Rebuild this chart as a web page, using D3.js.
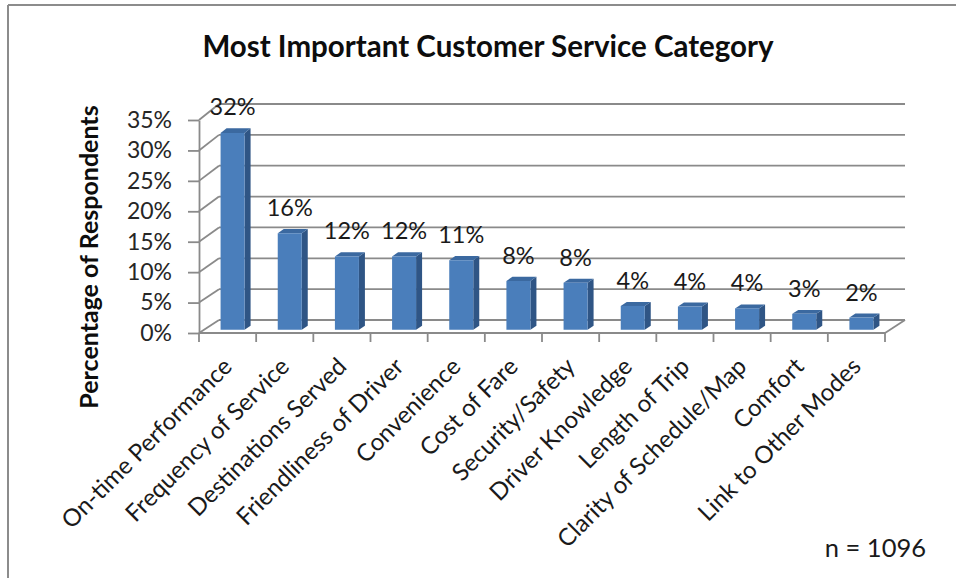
<!DOCTYPE html>
<html>
<head>
<meta charset="utf-8">
<script src="https://cdn.jsdelivr.net/npm/d3@7"></script>
<style>
  html, body { margin: 0; padding: 0; background: #fff; }
  svg { display: block; font-family: Lato, "Open Sans", sans-serif; }
</style>
</head>
<body>
<svg id="chart" width="956" height="578"></svg>
<script>
// Survey results: share of respondents naming each category as most important
const categories = [
  "On-time Performance", "Frequency of Service", "Destinations Served",
  "Friendliness of Driver", "Convenience", "Cost of Fare", "Security/Safety",
  "Driver Knowledge", "Length of Trip", "Clarity of Schedule/Map", "Comfort",
  "Link to Other Modes"
];
const shares = [32.2, 15.8, 12.0, 12.0, 11.4, 8.0, 7.7, 3.9, 3.8, 3.5, 2.6, 2.0];
const yTicks = [0, 5, 10, 15, 20, 25, 30, 35];
const titleText = "Most Important Customer Service Category";
const yTitleText = "Percentage of Respondents";
const noteText = "n = 1096";

const svg = d3.select("#chart");

// Front plane and back wall of the 3-D plot box
const x = d3.scaleBand().domain(categories).range([199, 885]).padding(0);
const yFront = d3.scaleLinear().domain([0, 35]).range([333, 120]);
const yBack = d3.scaleLinear().domain([0, 35]).range([320, 104]);
const depth = { dx: 20 };

// project a point on the front plane into depth t (0 = front, 1 = back)
function proj(xf, v, t) {
  return [xf + depth.dx * t, yFront(v) + (yBack(v) - yFront(v)) * t];
}

const gridColor = "#8a8a8a";
const textColor = "#1a1a1a";

// Chart frame (top and left edges)
svg.append("line").attr("x1", 8).attr("x2", 956).attr("y1", 5).attr("y2", 5)
  .attr("stroke", "#8c8c8c").attr("stroke-width", 2);
svg.append("line").attr("x1", 8).attr("x2", 8).attr("y1", 5).attr("y2", 578)
  .attr("stroke", "#8c8c8c").attr("stroke-width", 2);

// Back-wall gridlines
const x0 = x.range()[0], x1 = x.range()[1];
svg.append("g").selectAll("line").data(yTicks).join("line")
  .attr("x1", x0 + depth.dx).attr("x2", x1 + depth.dx)
  .attr("y1", d => yBack(d)).attr("y2", d => yBack(d))
  .attr("stroke", gridColor).attr("stroke-width", 1.8);

// Side-wall gridlines connecting the axis to the back wall
svg.append("g").selectAll("line").data(yTicks).join("line")
  .attr("x1", x0).attr("y1", d => yFront(d))
  .attr("x2", x0 + depth.dx).attr("y2", d => yBack(d))
  .attr("stroke", gridColor).attr("stroke-width", 1.8);

// Floor: front edge and right edge
svg.append("line").attr("x1", x0).attr("x2", x1)
  .attr("y1", yFront(0)).attr("y2", yFront(0))
  .attr("stroke", gridColor).attr("stroke-width", 1.8);
svg.append("line").attr("x1", x1).attr("y1", yFront(0))
  .attr("x2", x1 + depth.dx).attr("y2", yBack(0))
  .attr("stroke", gridColor).attr("stroke-width", 1.8);

// Category tick marks on the category boundaries
const bounds = categories.map(c => x(c)).concat([x1]);
svg.append("g").selectAll("line").data(bounds).join("line")
  .attr("x1", d => d).attr("x2", d => d)
  .attr("y1", yFront(0)).attr("y2", yFront(0) + 9)
  .attr("stroke", gridColor).attr("stroke-width", 1.8);

// Value axis
const yAxis = svg.append("g")
  .attr("transform", `translate(${x0},0)`)
  .call(d3.axisLeft(yFront).tickValues(yTicks).tickSize(11).tickPadding(16)
    .tickSizeOuter(0).tickFormat(d => d + "%"));
yAxis.select(".domain").attr("stroke", gridColor).attr("stroke-width", 1.8);
yAxis.selectAll(".tick line").attr("stroke", gridColor).attr("stroke-width", 1.8);
yAxis.selectAll(".tick text").attr("font-size", 23).attr("fill", "#262626")
  .attr("font-family", "Lato, 'Open Sans', sans-serif");

// 3-D columns
const tF = 0.25, tB = 0.55;
const barW = x.bandwidth() * 0.42;
const bars = categories.map((c, i) => {
  const cx = x(c) + x.bandwidth() / 2;
  return { c, v: shares[i], l: cx - barW / 2, r: cx + barW / 2 };
});
const pts = a => a.map(p => p.join(",")).join(" ");
const g = svg.append("g");
bars.forEach(b => {
  // side face
  g.append("polygon").attr("points", pts([
    proj(b.r, 0, tF), proj(b.r, 0, tB), proj(b.r, b.v, tB), proj(b.r, b.v, tF)
  ])).attr("fill", "#2f5585");
  // top face
  g.append("polygon").attr("points", pts([
    proj(b.l, b.v, tF), proj(b.r, b.v, tF), proj(b.r, b.v, tB), proj(b.l, b.v, tB)
  ])).attr("fill", "#3b69a0");
  // front face
  g.append("polygon").attr("points", pts([
    proj(b.l, 0, tF), proj(b.r, 0, tF), proj(b.r, b.v, tF), proj(b.l, b.v, tF)
  ])).attr("fill", "#4a7ebb");
});

// Value labels above the columns
svg.append("g").selectAll("text").data(bars).join("text")
  .attr("x", d => (d.l + d.r) / 2 + depth.dx * tF)
  .attr("y", d => proj(d.l, d.v, tB)[1] - 13)
  .attr("text-anchor", "middle").attr("font-size", 23.5).attr("fill", textColor)
  .text(d => Math.round(d.v) + "%");

// Rotated category labels
svg.append("g").selectAll("text").data(categories).join("text")
  .attr("transform", d => `translate(${x(d) + x.bandwidth() / 2 + 6},368) rotate(-45)`)
  .attr("text-anchor", "end").attr("font-size", 24).attr("fill", textColor)
  .text(d => d);

// Titles and note
svg.append("text").attr("x", 488).attr("y", 57).attr("text-anchor", "middle")
  .attr("font-size", 29.5).attr("font-weight", "bold").attr("fill", "#0d0d0d")
  .text(titleText);
svg.append("text").attr("transform", "translate(98,257) rotate(-90)")
  .attr("text-anchor", "middle").attr("font-size", 25).attr("font-weight", "bold")
  .attr("fill", "#0d0d0d").text(yTitleText);
svg.append("text").attr("x", 926).attr("y", 557).attr("text-anchor", "end")
  .attr("font-size", 25.5).attr("fill", textColor).text(noteText);
</script>
</body>
</html>
